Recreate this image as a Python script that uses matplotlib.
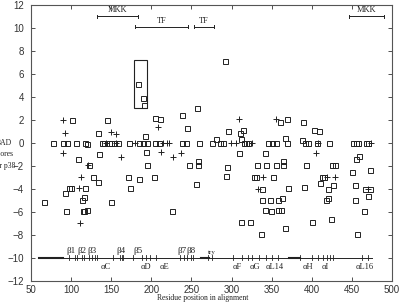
import numpy as np
import matplotlib
matplotlib.use("Agg")
import matplotlib.pyplot as plt
from matplotlib.patches import Rectangle

# squares: residues on the zero line and off it
sq_x = [77, 90, 95, 106, 117, 138, 141, 147, 150, 153, 158, 172, 185, 189, 195,
        205, 209, 238, 243, 260, 276, 285, 289, 315, 318, 321, 346, 350, 355, 369,
        391, 395, 406, 421, 452, 455, 458, 467, 470,
        120, 280, 312, 366, 388,
        101.5, 133, 145, 183, 190, 191, 191.5, 205, 211, 238, 245, 257, 292, 296,
        311, 314, 360.5, 369, 389.5, 403, 409.5,
        108, 122.5, 135, 193.5, 194, 247, 258.5, 258.5, 127, 133, 171.5, 185, 203.5,
        256, 97, 100, 117.7, 173.4, 92.8, 113, 116.3, 150, 65.8, 94, 114.5, 116.5,
        120, 225.4,
        309.7, 341.5, 294.7, 293.5, 331.4, 343.5, 355, 364, 364.6, 328, 331, 351.2,
        337.6, 370, 338, 348, 358.4, 362.6, 341.6, 349, 358.4, 361.3, 311.8, 323,
        366.7, 336.8,
        393, 425.5, 428.5, 449.8, 412.5, 415.5, 410, 427, 420.7, 390.5, 418, 419.8,
        423.5, 400.7, 456.5, 455.5, 458.8, 472.7, 454, 466.5, 472.7, 454.5, 469.8,
        465.6]
sq_y = [0] * 39 + \
       [-0.15, 0.3, 0.3, 0.45, 0.2,
        2.0, 0.87, 2.0, 5.1, 3.87, 3.26, 0.58, 2.15, 2.04, 2.45, 1.25, 3.05, 7.07, 1.0,
        0.87, 1.13, 1.83, 2.05, 1.83, 1.13, 1.03,
        -1.46, -1.96, -1.0, -0.82, -1.96, -1.96, -1.6, -1.96, -2.97, -3.44, -2.95, -3.18,
        -2.97, -3.55, -3.96, -3.96, -3.96, -3.96, -4.37, -4.95, -4.75, -5.15, -5.15,
        -5.92, -5.94, -5.94, -5.83, -5.95,
        -0.9, -0.9, -2.15, -2.86, -1.96, -1.96, -1.96, -1.55, -1.96, -2.97, -2.97, -2.97,
        -4.0, -3.95, -4.95, -4.95, -4.95, -4.8, -5.83, -5.97, -5.83, -5.83, -6.93, -6.93,
        -7.45, -7.97,
        -1.96, -1.96, -1.96, -2.57, -2.97, -2.97, -3.47, -3.67, -4.0, -3.88, -4.95, -4.8,
        -6.64, -6.93, -7.93, -1.46, -1.15, -2.4, -3.67, -4.0, -4.0, -4.95, -4.6, -5.9]

# plus signs
pl_x = [144, 156, 180, 215, 219, 222, 299, 305, 325, 408, 474,
        89.5, 93, 149.5, 155.5, 208, 309.5, 355,
        90, 120.7, 162, 211.7, 226.5, 236.6, 112, 110, 111, 339.6, 333, 405, 419.5,
        429, 469.5]
pl_y = [0] * 11 + \
       [2.0, 0.85, 0.95, 0.72, 1.36, 2.05, 2.05,
        -0.93, -1.96, -1.22, -0.82, -1.22, -0.92, -2.97, -3.96, -6.96, -2.97, -4.0,
        -0.9, -2.97, -2.97, -4.0]

# range bars at the top
bar_labels = ["MKK", "TF", "TF", "MKK"]
bar_start = [132.7, 180, 253.6, 446.5]
bar_end = [184, 246, 278, 490]
bar_y = [11.0, 10.1, 10.1, 11.0]

# secondary structure line
ss_ticks = [97.8, 104.9, 107.7, 113.2, 116.1, 122.7, 125.7, 129.8, 132.7, 152.6,
            161, 163, 165, 176.8, 188, 193.4, 198.4, 205.9, 235.8, 240.8, 244.1,
            249.1, 252.4, 271, 275.3, 302.2, 312.7, 321, 325.2, 334.7, 343, 350.2,
            358.4, 385, 400, 408.2, 414.5, 418.7, 422.8, 426.2, 462.3, 470.6]
beta_labels = ["β1", "β2", "β3", "β4", "β5", "β7", "β8", "try"]
beta_x = [99.5, 114, 126.5, 162, 183, 238, 249, 276]
alpha_labels = ["αC", "αD", "αE", "αF", "αG", "αL14", "αH", "αI", "αL16"]
alpha_x = [143, 193, 217, 306.5, 328.5, 354, 395.8, 416.6, 465.6]

fig = plt.figure(figsize=(4.02, 3.04), dpi=100)
ax = fig.add_axes([31 / 402, 1 - 280.7 / 304, 361 / 402, 276 / 304])
ink = "#222222"
serif = "Liberation Serif"

ax.plot(sq_x, sq_y, ls="none", marker="s", ms=3.6, mfc="none", mec=ink, mew=0.7)
ax.plot(pl_x, pl_y, ls="none", marker="+", ms=4.5, mec=ink, mew=0.7)

for lab, a, b, y in zip(bar_labels, bar_start, bar_end, bar_y):
    ax.plot([a, b], [y, y], color=ink, lw=0.7)
    ax.plot([a, a], [y - 0.12, y + 0.12], color=ink, lw=0.7)
    ax.plot([b, b], [y - 0.12, y + 0.12], color=ink, lw=0.7)
    ax.text((a + b) / 2, y + 0.15, lab, ha="center", va="bottom",
            fontsize=6, family=serif, color=ink)

ax.add_patch(Rectangle((179, 3.0), 16, 4.2, fill=False, ec=ink, lw=0.8))

ax.plot([60, 475], [-10, -10], color=ink, lw=0.7)
ax.plot([60, 90], [-10, -10], color=ink, lw=1.5)
ax.plot([262, 272], [-10, -10], color=ink, lw=1.5)
ax.plot([372, 385], [-10, -10], color=ink, lw=1.5)
for t in ss_ticks:
    ax.plot([t, t], [-10.2, -10.2 + 0.4], color=ink, lw=0.6)
for lab, x in zip(beta_labels, beta_x):
    ax.text(x, -9.75, lab, ha="center", va="bottom", fontsize=6.5 if lab != "try" else 5,
            family=serif, color=ink)
for lab, x in zip(alpha_labels, alpha_x):
    ax.text(x, -10.5, lab, ha="center", va="top", fontsize=6, family=serif, color=ink)

ax.set_xlim(50, 500)
ax.set_ylim(-12, 12)
ax.set_xticks(np.arange(50, 501, 50))
ax.set_yticks(np.arange(-12, 13, 2))
ax.tick_params(direction="in", length=3, width=0.6, top=True, right=True,
               labelsize=7, colors="#333333")
ax.tick_params(axis="x", pad=3)
ax.tick_params(axis="y", pad=5)
for lbl in ax.get_xticklabels() + ax.get_yticklabels():
    lbl.set_family("Liberation Sans")
for s in ax.spines.values():
    s.set_color("#555555")
    s.set_linewidth(0.8)

fig.text(203 / 402, 1 - 298.5 / 304, "Residue position in alignment", ha="center",
         va="center", fontsize=5.5, family=serif, color=ink)
for lab, py in zip(["BAD", "scores", "for p38"], [143, 154.5, 165.5]):
    fig.text(4 / 402, 1 - py / 304, lab, ha="center", va="center", fontsize=5.5,
             family=serif, color=ink)

fig.savefig("out.png", dpi=100)
